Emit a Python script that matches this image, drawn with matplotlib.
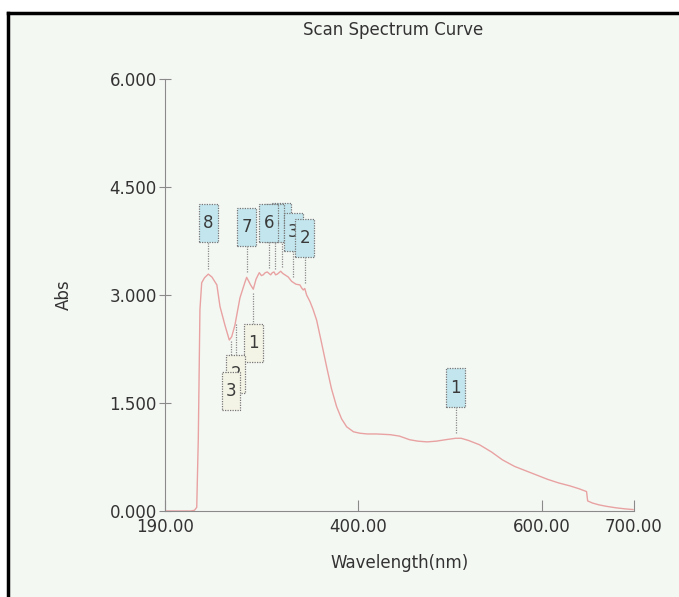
import numpy as np
import matplotlib
matplotlib.use("Agg")
import matplotlib.pyplot as plt
from matplotlib.patches import Rectangle
from matplotlib.lines import Line2D

# spectrum
wavelength = [190, 205, 218, 222, 224.5, 226.2, 228, 229.9, 233, 237.1, 241, 246.4, 249.8,
              255.2, 259.9, 262.5, 266, 271.5, 277, 278.8, 283.1, 286, 289, 292.5, 294.8,
              296.8, 299, 301.2, 303, 304.9, 306.7, 308.5, 310.3, 312.1, 314, 315.8, 318,
              320.4, 324, 327.7, 330, 332.4, 336.7, 338.5, 340.3, 342, 344, 347.6, 351,
              354.9, 360, 365.8, 371, 376.6, 382, 387.5, 395, 402, 410, 420, 435, 445,
              456, 465, 475, 485, 495, 506, 512, 520, 532, 545, 557, 570, 582, 594, 606,
              618, 630, 640, 648.4, 649.6, 655, 662, 670, 680, 690, 699]
absorbance = [0.0, 0.0, 0.0, 0.01, 0.05, 1.0, 2.8, 3.17, 3.24, 3.29, 3.25, 3.14, 2.84,
              2.58, 2.375, 2.42, 2.58, 2.96, 3.18, 3.245, 3.14, 3.08, 3.22, 3.31, 3.27,
              3.28, 3.31, 3.32, 3.30, 3.28, 3.31, 3.32, 3.28, 3.29, 3.31, 3.33, 3.30,
              3.28, 3.25, 3.19, 3.17, 3.15, 3.14, 3.10, 3.07, 3.09, 3.00, 2.91, 2.80,
              2.65, 2.35, 2.00, 1.70, 1.45, 1.28, 1.17, 1.10, 1.08, 1.07, 1.07, 1.06, 1.04,
              0.99, 0.97, 0.96, 0.97, 0.99, 1.01, 1.01, 0.98, 0.92, 0.82, 0.71, 0.62, 0.56,
              0.50, 0.44, 0.39, 0.35, 0.31, 0.27, 0.14, 0.11, 0.085, 0.065, 0.045, 0.03, 0.02]

peak_labels = ["8", "7", "4", "5", "6", "3", "2", "1"]
peak_wl = [237.1, 278.8, 317.0, 309.5, 303.0, 329.5, 342.0, 506.0]
valley_labels = ["1", "2", "3"]
valley_wl = [286.0, 267.0, 261.7]

x_ticks = [190, 400, 600, 700]
y_ticks = [0.0, 1.5, 3.0, 4.5, 6.0]

W, H = 679, 597
fig = plt.figure(figsize=(W / 100, H / 100), dpi=100, facecolor="white")
fig.add_artist(Rectangle((8 / W, 0), 1, 1 - 13 / H, transform=fig.transFigure,
                         facecolor="#f4f8f3", edgecolor="none", zorder=-5))
fig.add_artist(Line2D([8 / W, 1], [1 - 13 / H, 1 - 13 / H], color="black", lw=2.5, zorder=-4))
fig.add_artist(Line2D([8 / W, 8 / W], [0, 1 - 13 / H], color="black", lw=2.5, zorder=-4))

ax = fig.add_axes([165 / W, 86 / H, 469 / W, 432 / H])
ax.set_zorder(2)
ax.set_facecolor("none")
ax.set_xlim(190, 700)
ax.set_ylim(0, 6)

ax.plot(wavelength, absorbance, color="#e8a2a2", lw=1.0, zorder=2)

bw = 20.5      # box width in nm
bh = 0.53      # box height in Abs
txt = "#3a3a3a"

for lbl, w in zip(peak_labels, peak_wl):
    v = np.interp(w, wavelength, absorbance)
    ax.plot([w, w], [v + 0.07, v + 0.44], color="#8a8a8a", lw=0.9, ls=(0, (1, 1)), zorder=3)
    ax.add_patch(Rectangle((w - bw / 2, v + 0.44), bw, bh, facecolor="#c3e6ee",
                           edgecolor="#777777", lw=0.9, ls=(0, (1, 1)), zorder=4))
    ax.text(w, v + 0.44 + bh / 2, lbl, ha="center", va="center", fontsize=12,
            color=txt, zorder=4)

for lbl, w in zip(valley_labels, valley_wl):
    v = np.interp(w, wavelength, absorbance)
    ax.plot([w, w], [v - 0.05, v - 0.48], color="#8a8a8a", lw=0.9, ls=(0, (1, 1)), zorder=3)
    ax.add_patch(Rectangle((w - bw / 2, v - 0.48 - bh), bw, bh, facecolor="#f4f4e6",
                           edgecolor="#777777", lw=0.9, ls=(0, (1, 1)), zorder=4))
    ax.text(w, v - 0.48 - bh / 2, lbl, ha="center", va="center", fontsize=12,
            color=txt, zorder=4)

for s in ["top", "right"]:
    ax.spines[s].set_visible(False)
ax.spines["left"].set_color("#8a8a8a")
ax.spines["bottom"].set_color("#8a8a8a")
ax.spines["bottom"].set_linestyle((0, (1, 1)))

ax.set_xticks(x_ticks)
ax.set_xticklabels([f"{t:.2f}" for t in x_ticks])
ax.set_yticks(y_ticks)
ax.set_yticklabels([f"{t:.3f}" for t in y_ticks])
ax.tick_params(axis="x", direction="in", length=8, color="#8a8a8a", labelsize=12,
               labelcolor="#333333", pad=5)
ax.tick_params(axis="y", direction="inout", length=8, color="#8a8a8a", labelsize=12,
               labelcolor="#333333", pad=2)

ax.set_xlabel("Wavelength(nm)", fontsize=12, color="#333333", labelpad=13)
ax.set_ylabel("Abs", fontsize=12, color="#333333", labelpad=26)
fig.text(393 / W, 1 - 30 / H, "Scan Spectrum Curve", ha="center", va="center",
         fontsize=12, color="#333333")

fig.savefig("out.png", dpi=100, facecolor=fig.get_facecolor())
